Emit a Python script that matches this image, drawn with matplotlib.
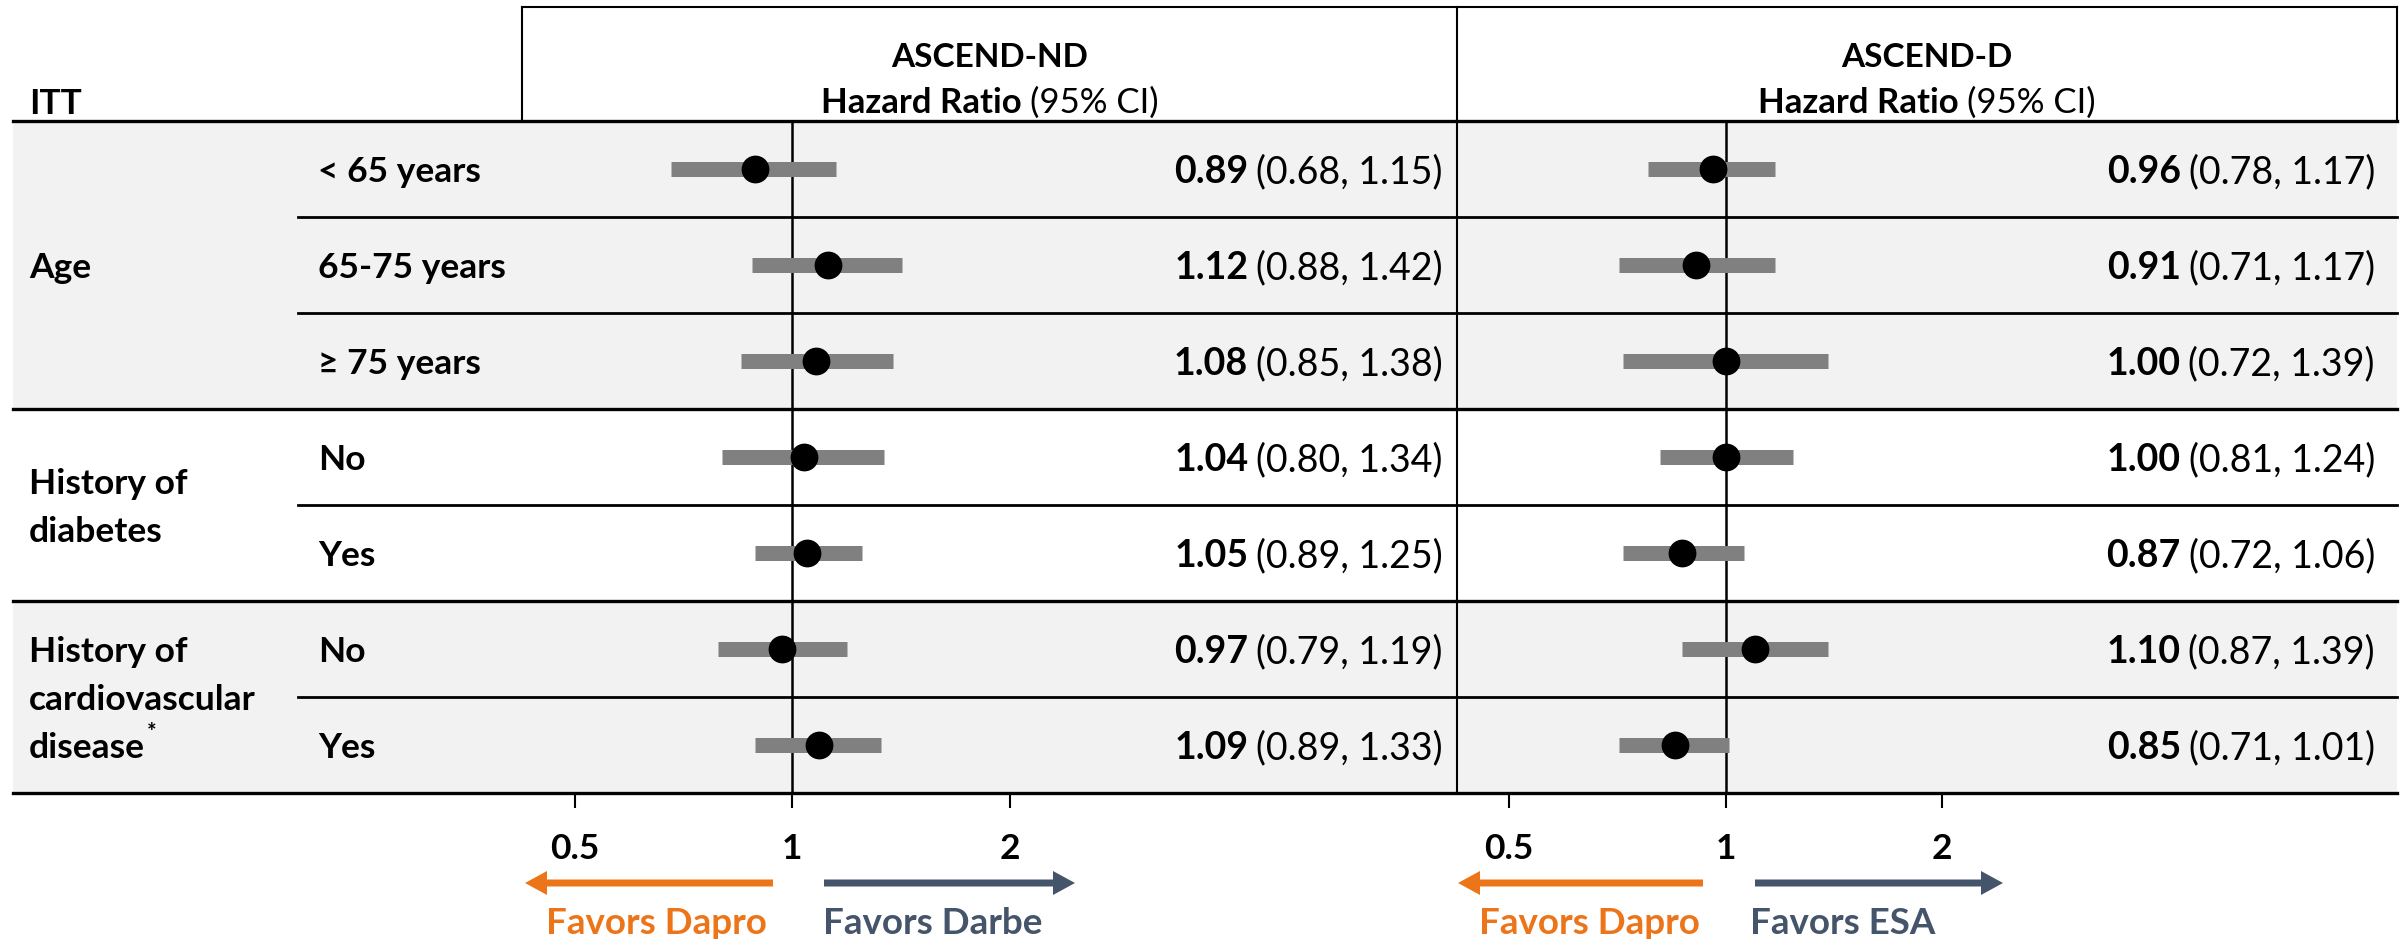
import numpy as np
import matplotlib
matplotlib.use("Agg")
import matplotlib.pyplot as plt
from matplotlib.patches import Rectangle, FancyArrow

plt.rcParams['font.family'] = ['Lato', 'DejaVu Sans']

# data
groups = ["Age", "History of\ndiabetes", "History of\ncardiovascular\ndisease"]
group_rows = [[0, 1, 2], [3, 4], [5, 6]]
subgroups = ["< 65 years", "65-75 years", "\u2265 75 years", "No", "Yes", "No", "Yes"]

nd_hr = [0.89, 1.12, 1.08, 1.04, 1.05, 0.97, 1.09]
nd_lo = [0.68, 0.88, 0.85, 0.80, 0.89, 0.79, 0.89]
nd_hi = [1.15, 1.42, 1.38, 1.34, 1.25, 1.19, 1.33]

d_hr = [0.96, 0.91, 1.00, 1.00, 0.87, 1.10, 0.85]
d_lo = [0.78, 0.71, 0.72, 0.81, 0.72, 0.87, 0.71]
d_hi = [1.17, 1.17, 1.39, 1.24, 1.06, 1.39, 1.01]

ticks = [0.5, 1, 2]
tick_labels = ["0.5", "1", "2"]

# layout in pixels
W, H = 2407, 939
FS = 25.5
GRAY_ROW = "#F2F2F2"
BAR = "#808080"
ORANGE = "#EC7519"
SLATE = "#44546A"

top, head, bottom = 7, 121, 793
rowh = (bottom - head) / 7
left_edge, right_edge, sub_x = 13, 2397, 298
box_left, divider = 522, 1457

fig = plt.figure(figsize=(W / 100, H / 100), dpi=100)
bg = fig.add_axes([0, 0, 1, 1])
bg.set_xlim(0, W)
bg.set_ylim(H, 0)
bg.axis('off')
renderer = fig.canvas.get_renderer()


def width_of(s, fs=FS, weight='normal'):
    t = bg.text(0, 0, s, fontsize=fs, fontweight=weight)
    w = t.get_window_extent(renderer).width
    t.remove()
    return w


def rich(x, y, parts, ha='left', fs=FS, gap=8):
    widths = [width_of(s, fs, wt) for s, wt in parts]
    total = sum(widths) + gap * (len(parts) - 1)
    if ha == 'right':
        x0 = x - total
    elif ha == 'center':
        x0 = x - total / 2
    else:
        x0 = x
    for (s, wt), w in zip(parts, widths):
        bg.text(x0, y, s, fontsize=fs, fontweight=wt, ha='left', va='center_baseline')
        x0 += w + gap


def row_y(i):
    return head + rowh * (i + 0.5)


# shaded rows
for gi, rows in enumerate(group_rows):
    if gi % 2 == 0:
        y0 = head + rowh * rows[0]
        bg.add_patch(Rectangle((left_edge, y0), right_edge - left_edge, rowh * len(rows),
                               facecolor=GRAY_ROW, edgecolor='none', zorder=0))

# table lines
bg.plot([box_left, right_edge], [top, top], color='black', lw=1.5)
bg.plot([box_left, box_left], [top, head], color='black', lw=1.5)
bg.plot([right_edge, right_edge], [top, head], color='black', lw=1.5)
bg.plot([divider, divider], [top, bottom], color='black', lw=1.5)
bg.plot([left_edge, right_edge], [head, head], color='black', lw=2.4)
bg.plot([left_edge, right_edge], [bottom, bottom], color='black', lw=2.4)
for gi, rows in enumerate(group_rows):
    for r in rows[:-1]:
        yy = head + rowh * (r + 1)
        bg.plot([sub_x, right_edge], [yy, yy], color='black', lw=2.0)
    if gi < len(group_rows) - 1:
        yy = head + rowh * (rows[-1] + 1)
        bg.plot([left_edge, right_edge], [yy, yy], color='black', lw=2.4)

# header
bg.text(29, 101, "ITT", fontsize=FS, fontweight='bold', va='center_baseline')
for cx, name in [((box_left + divider) / 2, "ASCEND-ND"), ((divider + right_edge) / 2, "ASCEND-D")]:
    bg.text(cx, 55, name, fontsize=24, fontweight='bold', ha='center', va='center_baseline')
    rich(cx, 100, [("Hazard Ratio", 'bold'), ("(95% CI)", 'normal')], ha='center', fs=25)

# left labels
for gi, rows in enumerate(group_rows):
    lines = groups[gi].split("\n")
    yc = (row_y(rows[0]) + row_y(rows[-1])) / 2
    n = len(lines)
    for k, ln in enumerate(lines):
        yy = yc + (k - (n - 1) / 2) * 48
        bg.text(29, yy, ln, fontsize=FS, fontweight='bold', va='center_baseline')
        if gi == 2 and k == n - 1:
            w = width_of(ln, FS, 'bold')
            bg.text(29 + w + 2, yy - 15, "*", fontsize=16, fontweight='bold', va='center_baseline')
for i, s in enumerate(subgroups):
    bg.text(318, row_y(i), s, fontsize=FS, fontweight='bold', va='center_baseline')

# HR text
for i in range(7):
    rich(1443, row_y(i), [("%.2f" % nd_hr[i], 'bold'), ("(%.2f, %.2f)" % (nd_lo[i], nd_hi[i]), 'normal')],
         ha='right', fs=27)
    rich(2375, row_y(i), [("%.2f" % d_hr[i], 'bold'), ("(%.2f, %.2f)" % (d_lo[i], d_hi[i]), 'normal')],
         ha='right', fs=27)


# forest panels
def forest(x0, x1, x_one, per_double, hr, lo, hi):
    ax = fig.add_axes([x0 / W, 1 - bottom / H, (x1 - x0) / W, (bottom - head) / H])
    ax.patch.set_alpha(0)
    ax.set_xscale('log', base=2)
    ax.set_xlim(2 ** ((x0 - x_one) / per_double), 2 ** ((x1 - x_one) / per_double))
    ax.set_ylim(6.5, -0.5)
    for sp in ax.spines.values():
        sp.set_visible(False)
    ax.set_yticks([])
    ax.set_xticks(ticks)
    ax.set_xticklabels(tick_labels, fontsize=FS, fontweight='bold')
    ax.xaxis.set_minor_locator(matplotlib.ticker.NullLocator())
    ax.tick_params(axis='x', direction='out', length=11, width=1.5, pad=18)
    ax.axvline(1, color='black', lw=1.8, zorder=1)
    y = np.arange(len(hr))
    ax.hlines(y, lo, hi, color=BAR, lw=10.8, zorder=2)
    ax.plot(hr, y, 'o', color='black', ms=19, zorder=3)
    return ax


forest(box_left, divider, 792, 217.5, nd_hr, nd_lo, nd_hi)
forest(divider, right_edge, 1725.6, 216.5, d_hr, d_lo, d_hi)

# favour arrows
arrows = [
    (773, 525, ORANGE, 656, "Favors Dapro"),
    (824, 1075, SLATE, 933, "Favors Darbe"),
    (1703, 1458, ORANGE, 1589, "Favors Dapro"),
    (1755, 2003, SLATE, 1843, "Favors ESA"),
]
for xs, xe, col, tx, label in arrows:
    bg.add_patch(FancyArrow(xs, 883, xe - xs, 0, width=7, head_width=24, head_length=22,
                            length_includes_head=True, color=col, lw=0))
    bg.text(tx, 920, label, fontsize=26.5, fontweight='bold', color=col, ha='center', va='center_baseline')

fig.savefig("out.png", dpi=100)
